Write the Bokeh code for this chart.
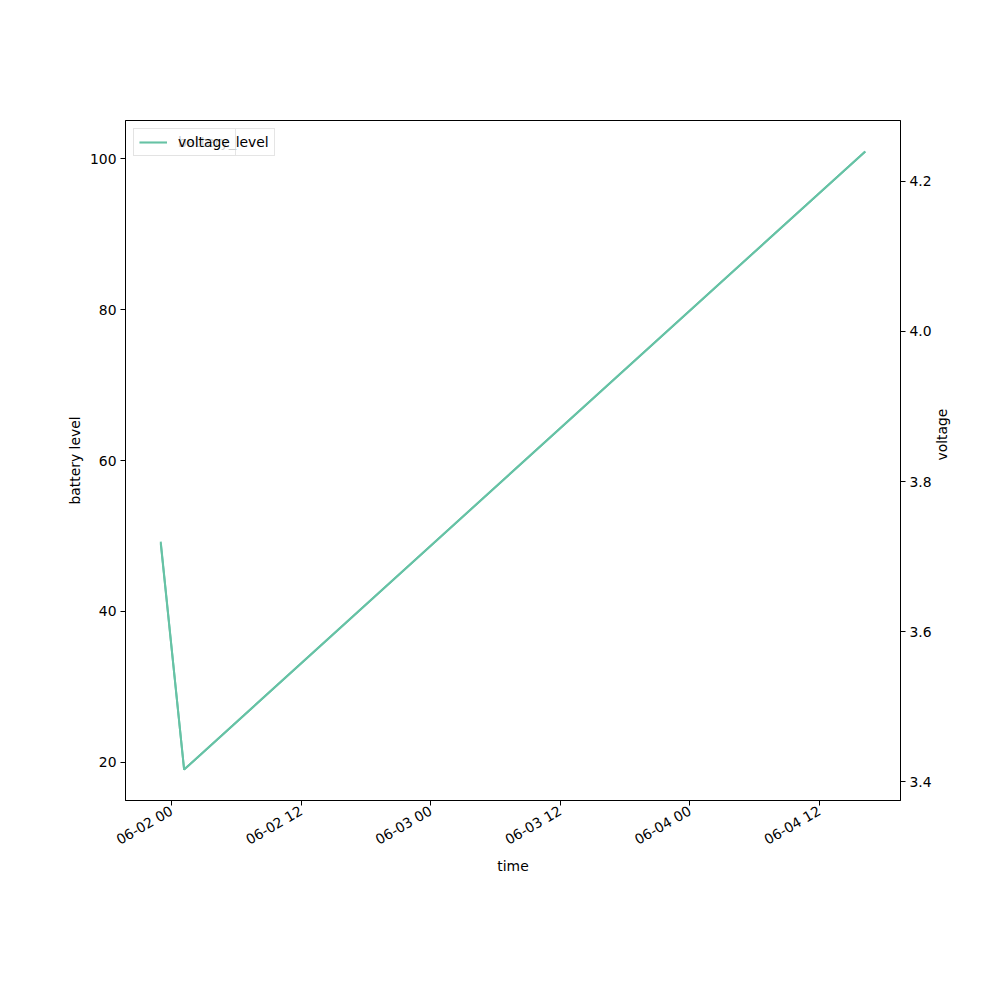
import numpy as np
import pandas as pd
from bokeh.plotting import figure
from bokeh.models import (Range1d, LinearAxis, Legend, LegendItem, FixedTicker,
                          DatetimeTickFormatter, ColumnDataSource, NumeralTickFormatter)
from bokeh.embed import file_html
from bokeh.resources import INLINE

# ---- data ----
times = ["2023-06-01 23:00", "2023-06-02 01:10", "2023-06-04 16:15"]
battery_level = [49, 19, 101]
voltage = [3.72, 3.416, 4.24]
tick_times = ["2023-06-02 00:00", "2023-06-02 12:00", "2023-06-03 00:00",
              "2023-06-03 12:00", "2023-06-04 00:00", "2023-06-04 12:00"]
battery_ticks = [20, 40, 60, 80, 100]
voltage_ticks = [3.4, 3.6, 3.8, 4.0, 4.2]

t_ms = [int(pd.Timestamp(x).value // 10**6) for x in times]
tick_ms = [int(pd.Timestamp(x).value // 10**6) for x in tick_times]

def padded(vals, frac=0.05):
    lo, hi = min(vals), max(vals)
    d = (hi - lo) * frac
    return lo - d, hi + d

x0, x1 = padded(t_ms)
y0, y1 = padded(battery_level)
v0, v1 = padded(voltage)

src = ColumnDataSource(dict(t=t_ms, b=battery_level, v=voltage))

FONT = "DejaVu Sans"
FS = "13.9px"
COLOR = "#66c2a5"

p = figure(width=992, height=992, output_backend="svg", toolbar_location=None,
           x_range=Range1d(x0, x1), y_range=Range1d(y0, y1),
           min_border_left=125, min_border_right=92, min_border_top=120,
           min_border_bottom=192, x_axis_type="datetime")
p.extra_y_ranges = {"volt": Range1d(v0, v1)}
p.grid.visible = False
p.outline_line_color = "black"
p.outline_line_width = 1
p.background_fill_color = "white"
p.border_fill_color = "white"

r1 = p.line("t", "b", source=src, line_color=COLOR, line_width=2)
r2 = p.line("t", "v", source=src, line_color=COLOR, line_width=2, y_range_name="volt")

right = LinearAxis(y_range_name="volt", axis_label="voltage")
p.add_layout(right, "right")

p.xaxis.ticker = FixedTicker(ticks=tick_ms)
fmt = "%m-%d %H"
p.xaxis.formatter = DatetimeTickFormatter(milliseconds=fmt, seconds=fmt, minsec=fmt,
                                          minutes=fmt, hourmin=fmt, hours=fmt,
                                          days=fmt, months=fmt, years=fmt)
p.xaxis.major_label_orientation = np.pi / 6
p.xaxis.axis_label = "time"
p.yaxis[0].axis_label = "battery level"
p.yaxis[0].ticker = FixedTicker(ticks=battery_ticks)
right.ticker = FixedTicker(ticks=voltage_ticks)
right.formatter = NumeralTickFormatter(format="0.0")

for ax in p.axis:
    ax.axis_line_color = "black"
    ax.major_tick_line_color = "black"
    ax.major_tick_out = 5
    ax.major_tick_in = 0
    ax.minor_tick_line_color = None
    ax.major_label_text_font = FONT
    ax.major_label_text_font_size = FS
    ax.major_label_text_color = "black"
    ax.axis_label_text_font = FONT
    ax.axis_label_text_font_size = FS
    ax.axis_label_text_font_style = "normal"
    ax.axis_label_text_color = "black"
    ax.major_label_standoff = 4
    ax.axis_label_standoff = 8

p.yaxis[0].axis_label_standoff = 4
p.xaxis.axis_label_standoff = 0
right.axis_label_standoff = 7
right.axis_label_orientation = np.pi / 2

def make_legend(label, rend):
    leg = Legend(items=[LegendItem(label=label, renderers=[rend])],
                 location="top_left", margin=8, padding=5, spacing=0,
                 glyph_width=28, glyph_height=14, label_standoff=11,
                 label_text_font=FONT, label_text_font_size=FS,
                 label_text_color="black", label_height=14,
                 border_line_color="#cccccc", border_line_width=1,
                 background_fill_color="white", background_fill_alpha=0.8)
    return leg

p.add_layout(make_legend("battery_level", r1))
p.add_layout(make_legend("voltage", r2))

open("out.html", "w").write(file_html(p, INLINE))
